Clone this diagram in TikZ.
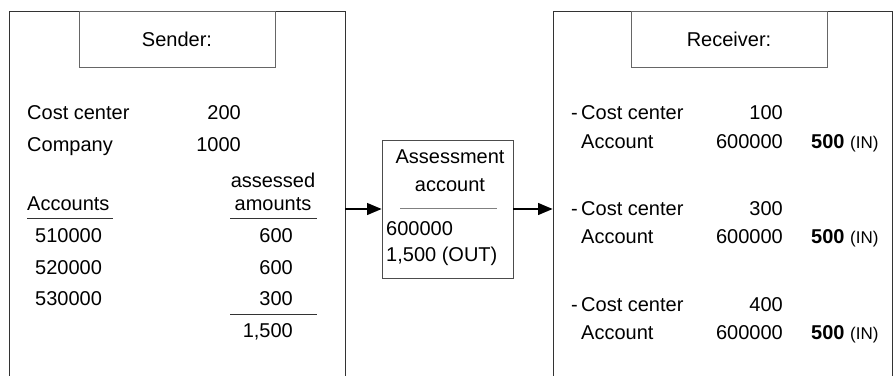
\documentclass[tikz,border=0pt]{standalone}
\usepackage{fontspec}
\setmainfont{Liberation Sans}
\usepackage{tikz}
\usetikzlibrary{arrows, shadows}
\tikzstyle{panel} = [rectangle, draw=black!80, line width=0.9pt, inner sep=0pt]
\tikzstyle{titlebox} = [rectangle, draw=gray!80!black, line width=0.8pt, fill=white, drop shadow={shadow xshift=1pt, shadow yshift=-1pt, fill=gray!70, opacity=1}, font=\fontsize{20}{24}\selectfont]
\tikzstyle{account} = [rectangle, draw=gray!60!black, line width=0.9pt, fill=white, drop shadow={shadow xshift=1pt, shadow yshift=-1pt, fill=gray!70, opacity=1}]
\tikzstyle{lbl} = [inner sep=0pt, anchor=base west, font=\fontsize{20}{24}\selectfont]
\tikzstyle{num} = [inner sep=0pt, anchor=base east, font=\fontsize{20}{24}\selectfont]
\tikzstyle{mid} = [inner sep=0pt, anchor=base, font=\fontsize{20}{24}\selectfont]
\tikzstyle{rule} = [line width=0.8pt, gray!40!black]
\tikzstyle{arrow} = [line width=2.4pt,->,>=triangle 45]

\begin{document}
\begin{tikzpicture}[x=1pt, y=-1pt]
    \useasboundingbox (0,0) rectangle (894,375);
    \clip (0,0) rectangle (894,375);
    % sender side
    \node (sender) [panel, minimum width=336pt, minimum height=389pt] at (177,205.5) {};
    \node (sendtitle) [titlebox, minimum width=196pt, minimum height=56pt] at (177,39) {Sender:};
    \node (cc) [lbl] at (27,119) {Cost center};
    \node (ccval) [num] at (241,119) {200};
    \node (comp) [lbl] at (27,151) {Company};
    \node (compval) [num] at (241,151) {1000};
    \node (accs) [lbl] at (27,210) {Accounts};
    \node (ass1) [mid] at (273,187) {assessed};
    \node (ass2) [mid] at (273,210) {amounts};
    \draw [rule] (27,218) -- (113,218);
    \draw [rule] (230,218) -- (317,218);
    \node (acc1) [lbl] at (35,242) {510000};
    \node (acc2) [lbl] at (35,274) {520000};
    \node (acc3) [lbl] at (35,305) {530000};
    \node (amt1) [num] at (293,242) {600};
    \node (amt2) [num] at (293,274) {600};
    \node (amt3) [num] at (293,305) {300};
    \draw [rule] (230,314) -- (317,314);
    \node (total) [num] at (293,337) {1,500};
    % assessment account
    \node (assess) [account, minimum width=131pt, minimum height=138pt] at (447.5,209) {};
    \node (asst1) [mid] at (450,163) {Assessment};
    \node (asst2) [mid] at (450,191) {account};
    \draw [rule, gray] (400,208) -- (497,208);
    \node (asst3) [lbl] at (386,235) {600000};
    \node (asst4) [lbl] at (386,261) {1,500 (OUT)};
    % receiver side
    \node (receiver) [panel, minimum width=339pt, minimum height=389pt] at (722.5,205.5) {};
    \node (rectitle) [titlebox, minimum width=196pt, minimum height=56pt] at (729,39) {Receiver:};
    \node (d1) [lbl] at (571,119) {-};
    \node (rc1) [lbl] at (581,119) {Cost center};
    \node (rc1val) [num] at (783,119) {100};
    \node (ra1) [lbl] at (581,148) {Account};
    \node (ra1val) [num] at (783,148) {600000};
    \node (in1) [lbl] at (811,148) {\textbf{500} {\fontsize{17}{20}\selectfont(IN)}};
    \node (d2) [lbl] at (571,215) {-};
    \node (rc2) [lbl] at (581,215) {Cost center};
    \node (rc2val) [num] at (783,215) {300};
    \node (ra2) [lbl] at (581,243) {Account};
    \node (ra2val) [num] at (783,243) {600000};
    \node (in2) [lbl] at (811,243) {\textbf{500} {\fontsize{17}{20}\selectfont(IN)}};
    \node (d3) [lbl] at (571,311) {-};
    \node (rc3) [lbl] at (581,311) {Cost center};
    \node (rc3val) [num] at (783,311) {400};
    \node (ra3) [lbl] at (581,339) {Account};
    \node (ra3val) [num] at (783,339) {600000};
    \node (in3) [lbl] at (811,339) {\textbf{500} {\fontsize{17}{20}\selectfont(IN)}};
    \draw [arrow] (assess.west -| sender.east) -- (assess.west);
    \draw [arrow] (assess.east) -- (assess.east -| receiver.west);
\end{tikzpicture}
\end{document}
